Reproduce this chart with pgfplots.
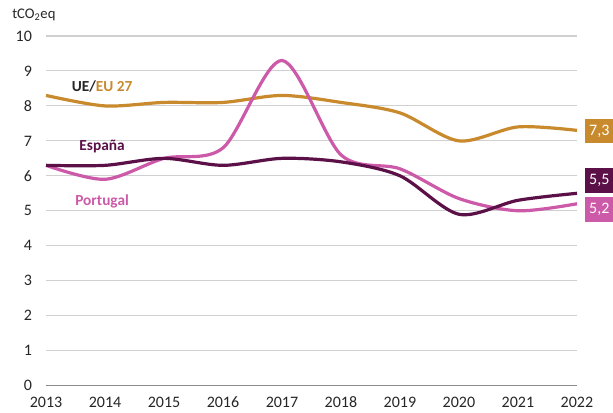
\documentclass[border=0pt]{standalone}
\usepackage{fontspec}
\setmainfont{Carlito}
\usepackage{pgfplots}
\pgfplotsset{compat=1.18}

\definecolor{ueorange}{HTML}{C98A2E}
\definecolor{espurple}{HTML}{5B1047}
\definecolor{ptpink}{HTML}{CC5AA8}
\definecolor{gridgray}{HTML}{D0D0D0}
\definecolor{axisgray}{HTML}{8C8C8C}
\definecolor{txtgray}{HTML}{262626}

\begin{document}
\begin{tikzpicture}
\begin{axis}[
    scale only axis, width=398pt, height=262pt,
    xmin=2013, xmax=2022, ymin=0, ymax=10,
    xtick={2013,...,2022}, ytick={0,1,...,10},
    xticklabel style={/pgf/number format/1000 sep=, yshift=-5pt},
    /pgf/number format/assume math mode=true,
    tick label style={font=\fontsize{12}{14}\selectfont, text=txtgray},
    separate axis lines,
    axis x line*=bottom,
    x axis line style={draw=axisgray, line width=0.8pt, -},
    y axis line style={draw=none},
    major tick length=0pt,
    ymajorgrids, grid style={draw=gridgray, line width=0.8pt},
    yticklabel style={xshift=-7pt},
    clip=false,
]
\addplot[ueorange, line width=2.4pt, smooth, tension=0.5] coordinates {
(2013,8.3) (2014,8.0) (2015,8.1) (2016,8.1) (2017,8.3) (2018,8.1) (2019,7.8) (2020,7.0) (2021,7.4) (2022,7.3)};
\addplot[ptpink, line width=2.4pt, smooth, tension=0.5] coordinates {
(2013,6.3) (2014,5.9) (2015,6.5) (2016,6.8) (2017,9.3) (2018,6.6) (2019,6.2) (2020,5.35) (2021,5.0) (2022,5.2)};
\addplot[espurple, line width=2.4pt, smooth, tension=0.5] coordinates {
(2013,6.3) (2014,6.3) (2015,6.5) (2016,6.3) (2017,6.5) (2018,6.4) (2019,6.0) (2020,4.9) (2021,5.3) (2022,5.5)};

\node[font=\bfseries\fontsize{11.5}{13}\selectfont] at (axis cs:2013.95,8.57) {\textcolor{txtgray}{UE/}\textcolor{ueorange}{EU 27}};
\node[font=\bfseries\fontsize{11.5}{13}\selectfont, text=espurple] at (axis cs:2013.95,6.85) {España};
\node[font=\bfseries\fontsize{11.5}{13}\selectfont, text=ptpink] at (axis cs:2013.95,5.27) {Portugal};

\node[anchor=west, fill=ueorange, text=white, minimum width=21pt, minimum height=18.5pt, inner sep=0pt, font=\fontsize{12}{14}\selectfont] at ([xshift=6pt]axis cs:2022,7.28) {7,3};
\node[anchor=west, fill=espurple, text=white, minimum width=21pt, minimum height=18.5pt, inner sep=0pt, font=\fontsize{12}{14}\selectfont] at ([xshift=6pt]axis cs:2022,5.87) {5,5};
\node[anchor=west, fill=ptpink, text=white, minimum width=21pt, minimum height=18.5pt, inner sep=0pt, font=\fontsize{12}{14}\selectfont] at ([xshift=6pt]axis cs:2022,5.04) {5,2};

\node[anchor=south west, text=txtgray, font=\fontsize{11}{13}\selectfont, inner sep=0pt] at ([xshift=-25.5pt,yshift=11pt]rel axis cs:0,1) {tCO\textsubscript{2}eq};
\end{axis}
\pgfresetboundingbox
\path[use as bounding box] ([xshift=-34.5pt,yshift=-20.25pt]current axis.south west) rectangle ([xshift=27pt,yshift=27pt]current axis.north east);
\end{tikzpicture}
\end{document}
